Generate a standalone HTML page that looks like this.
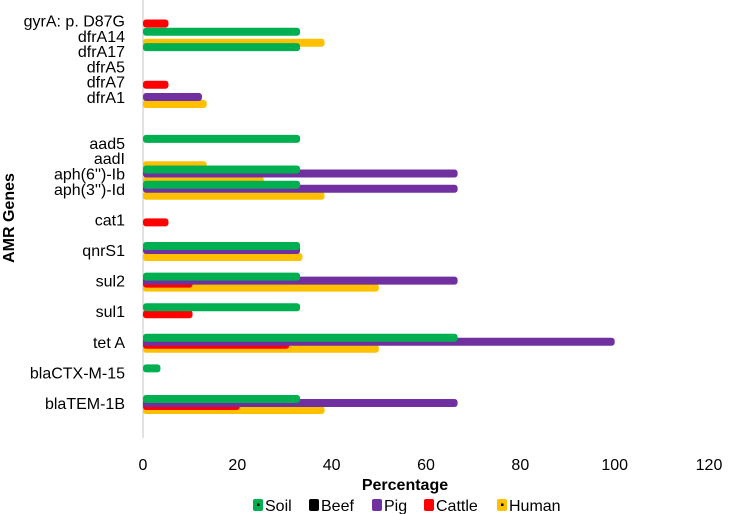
<!DOCTYPE html>
<html><head><meta charset="utf-8"><style>
body{margin:0;background:#fff;}
svg{display:block;font-family:"Liberation Sans",sans-serif;}
</style></head><body>
<svg id="chart" width="734" height="514">
<line x1="143" y1="0" x2="143" y2="438" stroke="#d9d9d9" stroke-width="1.5"/>
<g id="bars"></g>
<g id="ylabels"></g>
<g id="xticks"></g>
<text x="405" y="490" text-anchor="middle" font-size="16" font-weight="bold" fill="#000">Percentage</text>
<text transform="translate(14,218) rotate(-90)" text-anchor="middle" font-size="16" font-weight="bold" fill="#000">AMR Genes</text>
<g id="legend"></g>
</svg>
<script>
const categories = ["blaTEM-1B","blaCTX-M-15","tet A","sul1","sul2","qnrS1","cat1","aph(3'')-Id","aph(6'')-Ib","aadI","aad5","dfrA1","dfrA7","dfrA5","dfrA17","dfrA14","gyrA: p. D87G"];
const categorySlots = [0,2,4,6,8,10,12,14,15,16,17,20,21,22,23,24,25];
const seriesNames = ["Soil","Beef","Pig","Cattle","Human"];
const soil   = [33.3,3.7,66.7,33.3,33.3,33.3,0,33.3,33.3,0,33.3,0,0,0,33.3,33.3,0];
const beef   = [0,0,0,0,0,0,0,0,0,0,0,0,0,0,0,0,0];
const pig    = [66.7,0,100,0,66.7,33.3,0,66.7,66.7,0,0,12.5,0,0,0,0,0];
const cattle = [20.5,0,31,10.5,10.5,0,5.4,0,0,0,0,0,5.4,0,0,0,5.4];
const human  = [38.5,0,50,0,50,33.8,0,38.5,25.6,13.5,0,13.5,0,0,0,38.5,0];
const xTicks = [0,20,40,60,80,100,120];

const NS="http://www.w3.org/2000/svg";
const x = v => 143 + v*(709-143)/120;
const y = s => 404 - s*15.3;
const colors = {Soil:"#00b050",Beef:"#000000",Pig:"#7030a0",Cattle:"#ff0000",Human:"#ffc000"};
const offsets = {Soil:-5,Beef:-3,Pig:-1,Cattle:2,Human:6};
const dataBy = {Soil:soil,Beef:beef,Pig:pig,Cattle:cattle,Human:human};
function mk(tag,attrs,parent){const e=document.createElementNS(NS,tag);for(const k in attrs)e.setAttribute(k,attrs[k]);parent.appendChild(e);return e;}
const bars=document.getElementById('bars');
["Human","Cattle","Pig","Beef","Soil"].forEach(s=>{
  dataBy[s].forEach((v,i)=>{
    if(v<=0)return;
    const cy=y(categorySlots[i])+offsets[s];
    const r=mk('rect',{x:x(0),y:cy-4,width:x(v)-x(0),height:8,rx:3,fill:colors[s]},bars);
    
    
  });
});
const yl=document.getElementById('ylabels');
categories.forEach((c,i)=>{
  const t=mk('text',{x:125,y:y(categorySlots[i])+5,'text-anchor':'end','font-size':16,fill:'#000'},yl);
  t.textContent=c;
  
  
});
const xt=document.getElementById('xticks');
xTicks.forEach(v=>{
  const t=mk('text',{x:x(v),y:470,'text-anchor':'middle','font-size':16,fill:'#000'},xt);
  t.textContent=v;
  
  
});
const lg=document.getElementById('legend');
const legX=[253,309,372,424,497];
seriesNames.forEach((s,i)=>{
  const g=mk('g',{},lg);
  
  
  mk('rect',{x:legX[i],y:499,width:10,height:12,rx:2,fill:colors[s]},g);
  if(s==="Soil"||s==="Human") mk('rect',{x:legX[i]+4,y:503.5,width:2.5,height:2.5,fill:'#000'},g);
  const t=mk('text',{x:legX[i]+12,y:511,'font-size':16,fill:'#000'},g);
  t.textContent=s;
});
</script>
</body></html>
